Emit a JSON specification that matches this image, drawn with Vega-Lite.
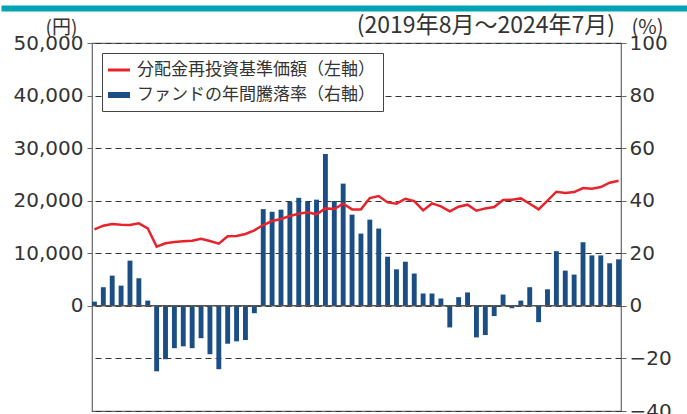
{
  "$schema": "https://vega.github.io/schema/vega-lite/v6.json",
  "padding": 0,
  "spacing": 2,
  "columns": 1,
  "align": "none",
  "background": "white",
  "config": {"view": {"stroke": null}, "font": "Noto Sans CJK JP"},
  "resolve": {"scale": {"color": "independent", "x": "independent"}, "legend": {"color": "independent"}},
  "concat": [
    {
      "width": 687,
      "height": 3,
      "data": {"values": [{"v": 0}, {"v": 1}]},
      "mark": {"type": "text"},
      "encoding": {
        "x": {
          "field": "v",
          "type": "quantitative",
          "scale": {"domain": [0, 1], "nice": false},
          "axis": {
            "orient": "bottom",
            "position": -91,
            "domainColor": "#00A3B6",
            "domainWidth": 6,
            "domainCap": "butt",
            "ticks": false,
            "labels": false,
            "grid": false,
            "title": null
          }
        },
        "text": {"value": ""}
      }
    },
    {
      "width": 529,
      "height": 368,
      "view": {"stroke": "#666666", "strokeWidth": 1.2},
      "title": {
        "text": "(2019年8月〜2024年7月)",
        "anchor": "end",
        "frame": "group",
        "fontSize": 23,
        "fontWeight": "normal",
        "color": "#333333",
        "font": "Noto Sans CJK JP",
        "baseline": "middle",
        "offset": -32,
        "dx": -6
      },
      "data": {
        "values": [
          {"m": "2019-08", "ret": 1.6, "nav": 14560},
          {"m": "2019-09", "ret": 7.1, "nav": 15250},
          {"m": "2019-10", "ret": 11.5, "nav": 15570},
          {"m": "2019-11", "ret": 7.7, "nav": 15440},
          {"m": "2019-12", "ret": 17.2, "nav": 15380},
          {"m": "2020-01", "ret": 10.5, "nav": 15700},
          {"m": "2020-02", "ret": 2.0, "nav": 14750},
          {"m": "2020-03", "ret": -24.9, "nav": 11270},
          {"m": "2020-04", "ret": -20.3, "nav": 11900},
          {"m": "2020-05", "ret": -16.1, "nav": 12150},
          {"m": "2020-06", "ret": -15.4, "nav": 12280},
          {"m": "2020-07", "ret": -16.1, "nav": 12400},
          {"m": "2020-08", "ret": -12.3, "nav": 12780},
          {"m": "2020-09", "ret": -18.4, "nav": 12340},
          {"m": "2020-10", "ret": -24.1, "nav": 11840},
          {"m": "2020-11", "ret": -14.4, "nav": 13230},
          {"m": "2020-12", "ret": -13.5, "nav": 13290},
          {"m": "2021-01", "ret": -13.0, "nav": 13670},
          {"m": "2021-02", "ret": -2.8, "nav": 14370},
          {"m": "2021-03", "ret": 36.8, "nav": 15380},
          {"m": "2021-04", "ret": 35.8, "nav": 16140},
          {"m": "2021-05", "ret": 36.6, "nav": 16520},
          {"m": "2021-06", "ret": 39.6, "nav": 17090},
          {"m": "2021-07", "ret": 41.1, "nav": 17530},
          {"m": "2021-08", "ret": 39.7, "nav": 17780},
          {"m": "2021-09", "ret": 40.4, "nav": 17410},
          {"m": "2021-10", "ret": 57.8, "nav": 18540},
          {"m": "2021-11", "ret": 39.9, "nav": 18420},
          {"m": "2021-12", "ret": 46.5, "nav": 19430},
          {"m": "2022-01", "ret": 34.7, "nav": 18350},
          {"m": "2022-02", "ret": 27.5, "nav": 18350},
          {"m": "2022-03", "ret": 32.8, "nav": 20510},
          {"m": "2022-04", "ret": 29.4, "nav": 20890},
          {"m": "2022-05", "ret": 18.7, "nav": 19680},
          {"m": "2022-06", "ret": 13.9, "nav": 19430},
          {"m": "2022-07", "ret": 16.8, "nav": 20380},
          {"m": "2022-08", "ret": 12.3, "nav": 19940},
          {"m": "2022-09", "ret": 4.7, "nav": 18160},
          {"m": "2022-10", "ret": 4.7, "nav": 19490},
          {"m": "2022-11", "ret": 2.8, "nav": 18920},
          {"m": "2022-12", "ret": -8.2, "nav": 17970},
          {"m": "2023-01", "ret": 3.3, "nav": 18860},
          {"m": "2023-02", "ret": 5.1, "nav": 19240},
          {"m": "2023-03", "ret": -12.0, "nav": 18100},
          {"m": "2023-04", "ret": -11.1, "nav": 18540},
          {"m": "2023-05", "ret": -3.9, "nav": 18800},
          {"m": "2023-06", "ret": 4.3, "nav": 20130},
          {"m": "2023-07", "ret": -0.9, "nav": 20190},
          {"m": "2023-08", "ret": 2.0, "nav": 20440},
          {"m": "2023-09", "ret": 7.1, "nav": 19430},
          {"m": "2023-10", "ret": -6.2, "nav": 18350},
          {"m": "2023-11", "ret": 6.3, "nav": 20000},
          {"m": "2023-12", "ret": 20.8, "nav": 21710},
          {"m": "2024-01", "ret": 13.4, "nav": 21460},
          {"m": "2024-02", "ret": 11.9, "nav": 21650},
          {"m": "2024-03", "ret": 24.2, "nav": 22410},
          {"m": "2024-04", "ret": 19.2, "nav": 22280},
          {"m": "2024-05", "ret": 19.2, "nav": 22590},
          {"m": "2024-06", "ret": 16.2, "nav": 23420},
          {"m": "2024-07", "ret": 17.7, "nav": 23800}
        ]
      },
      "layer": [
        {
          "layer": [
            {
              "mark": {"type": "bar"},
              "encoding": {
                "x": {"field": "m", "type": "ordinal", "axis": null, "scale": {"paddingInner": 0.45, "paddingOuter": 0}},
                "y": {
                  "field": "ret",
                  "type": "quantitative",
                  "scale": {"domain": [-40, 100], "nice": false, "zero": false},
                  "axis": {
                    "orient": "right",
                    "values": [-40, -20, 0, 20, 40, 60, 80, 100],
                    "title": "(%)",
                    "titleAngle": 0,
                    "titleX": 26,
                    "titleY": -16,
                    "titleAlign": "center",
                    "titleBaseline": "middle",
                    "titleFont": "Noto Sans CJK JP",
                    "titleFontSize": 20,
                    "titleFontWeight": "normal",
                    "titleColor": "#333333",
                    "labelFont": "DejaVu Sans",
                    "labelFontSize": 20,
                    "labelColor": "#333333",
                    "labelPadding": 3,
                    "labelOverlap": false,
                    "labelFlush": false,
                    "tickSize": 5,
                    "tickColor": "#666666",
                    "domain": false,
                    "grid": true,
                    "gridDash": [6, 4],
                    "gridColor": "#333333",
                    "gridWidth": 1
                  }
                },
                "color": {
                  "datum": "ファンドの年間騰落率（右軸）",
                  "type": "nominal",
                  "scale": {
                    "domain": ["分配金再投資基準価額（左軸）", "ファンドの年間騰落率（右軸）"],
                    "range": ["#E8232B", "#1A4E85"]
                  },
                  "legend": {
                    "orient": "top-left",
                    "offset": 10,
                    "title": null,
                    "fillColor": "white",
                    "strokeColor": "#444444",
                    "padding": 8,
                    "labelFont": "Noto Sans CJK JP",
                    "labelFontSize": 17,
                    "labelColor": "#333333",
                    "labelOffset": 9,
                    "labelLimit": 400,
                    "rowPadding": 8,
                    "symbolSize": 324,
                    "symbolType": "M-1.222,-0.333H1.222V0.333H-1.222Z",
                    "encode": {
                      "symbols": {
                        "update": {
                          "shape": {"signal": "datum.value === '分配金再投資基準価額（左軸）' ? 'M-1.222,-0.167H1.222V0.167H-1.222Z' : 'M-1.222,-0.333H1.222V0.333H-1.222Z'"},
                          "fill": {"scale": "color", "field": "value"},
                          "stroke": {"value": "transparent"},
                          "strokeWidth": {"value": 0},
                          "opacity": {"value": 1}
                        }
                      }
                    }
                  }
                }
              }
            },
            {
              "data": {"values": [{}]},
              "mark": {"type": "rule", "color": "#555555", "strokeWidth": 1.5},
              "encoding": {"y": {"datum": 0, "type": "quantitative"}}
            }
          ]
        },
        {
          "mark": {"type": "line", "strokeWidth": 2.5},
          "encoding": {
            "x": {"field": "m", "type": "ordinal", "axis": null},
            "y": {
              "field": "nav",
              "type": "quantitative",
              "scale": {"domain": [-20000, 50000], "nice": false, "zero": false},
              "axis": {
                "orient": "left",
                "values": [0, 10000, 20000, 30000, 40000, 50000],
                "format": ",.0f",
                "title": "(円)",
                "titleAngle": 0,
                "titleX": -31,
                "titleY": -16,
                "titleAlign": "center",
                "titleBaseline": "middle",
                "titleFont": "Noto Sans CJK JP",
                "titleFontSize": 19,
                "titleFontWeight": "normal",
                "titleColor": "#333333",
                "labelFont": "DejaVu Sans",
                "labelFontSize": 20,
                "labelColor": "#333333",
                "labelPadding": 4,
                "labelOverlap": false,
                "labelFlush": false,
                "tickSize": 5,
                "tickColor": "#666666",
                "domain": false,
                "grid": false,
                "minExtent": 91,
                "maxExtent": 91
              }
            },
            "color": {"datum": "分配金再投資基準価額（左軸）", "type": "nominal"}
          }
        }
      ],
      "resolve": {"scale": {"y": "independent"}}
    }
  ]
}
